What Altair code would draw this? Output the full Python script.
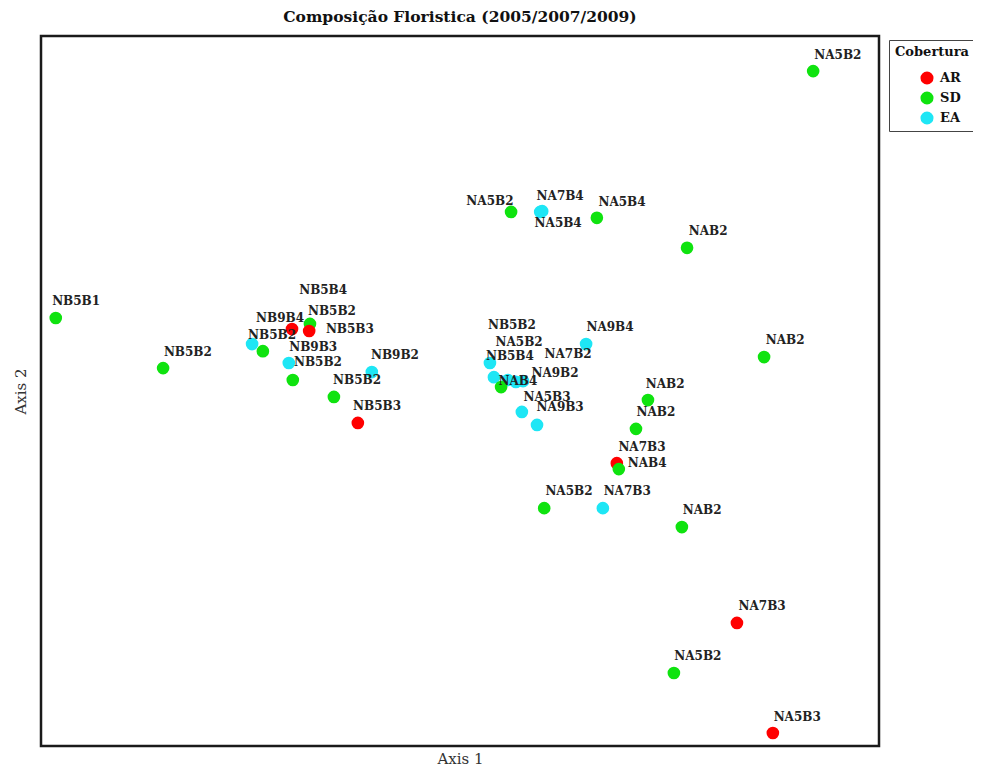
import altair as alt
import pandas as pd

# Ordination scores (Axis 1, Axis 2)
names = ["NA5B2", "NA5B2", "NA7B4", "NA5B4", "NA5B4", "NAB2", "NB5B1", "NB5B2",
         "NB5B4", "NB9B4", "NB5B3", "NB5B2", "NB5B2", "NB9B3", "NB5B2", "NB9B2", "NB5B2", "NB5B3",
         "NA9B4", "NB5B2", "NA5B2", "NB5B4", "NA7B2", "NA9B2", "NAB4", "NA5B3", "NA9B3",
         "NAB2", "NAB2", "NA7B3", "NAB4", "NA7B3", "NAB2", "NA5B2", "NAB2", "NA7B3", "NA5B2", "NA5B3"]
cover = ["SD", "SD", "EA", "EA", "SD", "SD", "SD", "SD",
         "SD", "AR", "AR", "EA", "SD", "EA", "SD", "EA", "SD", "AR",
         "EA", "EA", "EA", "EA", "EA", "EA", "SD", "EA", "EA",
         "SD", "SD", "AR", "SD", "EA", "SD", "SD", "SD", "AR", "SD", "AR"]
axis1 = [0.885, 0.128, 0.206, 0.201, 0.343, 0.569, -1.013, -0.744,
         -0.376, -0.421, -0.378, -0.521, -0.494, -0.429, -0.419, -0.221, -0.316, -0.256,
         0.316, 0.075, 0.085, 0.120, 0.158, 0.140, 0.103, 0.155, 0.193,
         0.471, 0.441, 0.393, 0.398, 0.358, 0.556, 0.211, 0.762, 0.694, 0.536, 0.784]
axis2 = [0.811, 0.454, 0.456, 0.454, 0.439, 0.363, 0.185, 0.058,
         0.170, 0.157, 0.152, 0.119, 0.101, 0.071, 0.028, 0.048, -0.015, -0.081,
         0.119, 0.071, 0.035, 0.028, 0.025, 0.023, 0.010, -0.053, -0.086,
         -0.023, -0.096, -0.183, -0.198, -0.297, -0.345, -0.297, 0.086, -0.588, -0.715, -0.867]
# label anchor positions (same units), as placed in the original figure
label_x = [0.947, 0.075, 0.251, 0.246, 0.406, 0.622, -0.962, -0.682,
           -0.343, -0.451, -0.276, -0.471, -0.321, -0.368, -0.356, -0.163, -0.258, -0.208,
           0.376, 0.130, 0.148, 0.125, 0.271, 0.238, 0.145, 0.218, 0.251,
           0.514, 0.491, 0.456, 0.469, 0.419, 0.607, 0.273, 0.815, 0.757, 0.596, 0.845]
label_y = [0.852, 0.482, 0.494, 0.426, 0.479, 0.406, 0.228, 0.099,
           0.256, 0.185, 0.157, 0.142, 0.203, 0.112, 0.074, 0.091, 0.028, -0.038,
           0.162, 0.167, 0.124, 0.089, 0.094, 0.046, 0.025, -0.015, -0.041,
           0.018, -0.053, -0.142, -0.183, -0.254, -0.302, -0.254, 0.129, -0.545, -0.672, -0.827]

groups = ["AR", "SD", "EA"]
colors = ["#ff0000", "#0fe30f", "#1ee6f5"]

df = pd.DataFrame({"name": names, "Cobertura": cover, "a1": axis1, "a2": axis2,
                   "lx": label_x, "ly": label_y})

xs = alt.Scale(domain=[-1.05, 1.05], nice=False, zero=False)
ys = alt.Scale(domain=[-0.9, 0.9], nice=False, zero=False)

points = alt.Chart(df).mark_circle(size=160, opacity=1).encode(
    x=alt.X("a1:Q", scale=xs, title="Axis 1",
            axis=alt.Axis(labels=False, ticks=False, domain=False, grid=False,
                          titleFont="DejaVu Serif", titleFontSize=15, titleFontWeight="normal",
                          titleColor="#333333", titlePadding=5)),
    y=alt.Y("a2:Q", scale=ys, title="Axis 2",
            axis=alt.Axis(labels=False, ticks=False, domain=False, grid=False,
                          titleFont="DejaVu Serif", titleFontSize=15, titleFontWeight="normal",
                          titleColor="#333333", titlePadding=13)),
    color=alt.Color("Cobertura:N", scale=alt.Scale(domain=groups, range=colors),
                    legend=alt.Legend(title="Cobertura", orient="none", legendX=848, legendY=4,
                                      padding=6, strokeColor="#444444", fillColor="white",
                                      titleFont="DejaVu Serif", titleFontSize=13,
                                      titleFontWeight="bold", titleColor="#111111",
                                      titleAnchor="middle", titlePadding=12,
                                      labelFont="DejaVu Serif", labelFontSize=13,
                                      labelFontWeight="bold", labelColor="#111111",
                                      symbolType="circle", symbolSize=170, symbolStrokeWidth=0,
                                      symbolOpacity=1, symbolOffset=16, rowPadding=6,
                                      labelOffset=6)),
)

labels = alt.Chart(df).mark_text(font="DejaVu Serif", fontSize=12, fontWeight="bold",
                                 color="#222222", align="center", baseline="middle").encode(
    x=alt.X("lx:Q", scale=xs),
    y=alt.Y("ly:Q", scale=ys),
    text="name:N",
)

chart = alt.layer(points, labels).properties(
    width=838, height=710,
    title=alt.TitleParams("Composição Floristica (2005/2007/2009)", font="DejaVu Serif",
                          fontSize=15.5, fontWeight="bold", color="#111111", offset=11,
                          anchor="middle"),
    autosize=alt.AutoSizeParams(type="none"),
    padding={"left": 33, "top": 28, "right": 94, "bottom": 22},
).configure_view(stroke="#1a1a1a", strokeWidth=2.5, fill="white")

chart.save("out.html", embed_options={"renderer": "svg", "actions": False})
